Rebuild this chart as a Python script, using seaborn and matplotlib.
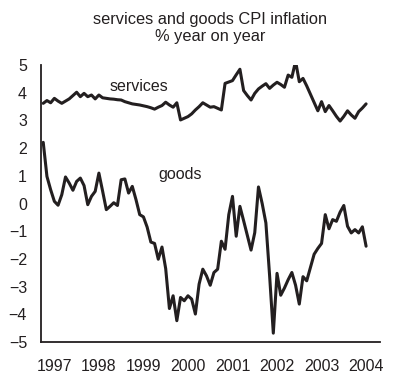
import numpy as np
import pandas as pd
import seaborn as sns
import matplotlib
matplotlib.use("Agg")
import matplotlib.pyplot as plt

# monthly series, Oct 1996 to Jan 2004 (% year on year)
start_year = 1996.75
services = [3.62, 3.72, 3.64, 3.80, 3.70, 3.62, 3.70, 3.78, 3.90, 4.02,
            3.86, 3.98, 3.86, 3.92, 3.78, 3.92, 3.82, 3.80, 3.78, 3.77,
            3.75, 3.74, 3.68, 3.64, 3.60, 3.58, 3.56, 3.53, 3.50, 3.46,
            3.41, 3.48, 3.54, 3.66, 3.56, 3.48, 3.64, 3.02, 3.08, 3.14,
            3.24, 3.38, 3.50, 3.64, 3.56, 3.48, 3.50, 3.44, 3.38, 4.34,
            4.39, 4.44, 4.65, 4.85, 4.08, 3.90, 3.74, 3.98, 4.14, 4.24,
            4.33, 4.16, 4.28, 4.38, 4.30, 4.20, 4.64, 4.56, 5.14, 4.40,
            4.52, 4.25, 3.95, 3.65, 3.35, 3.68, 3.32, 3.54, 3.35, 3.15,
            2.98, 3.15, 3.35, 3.20, 3.08, 3.32, 3.45, 3.60]
goods = [2.21, 0.98, 0.50, 0.08, -0.06, 0.32, 0.96, 0.74, 0.48, 0.80,
         0.92, 0.65, -0.04, 0.26, 0.44, 1.10, 0.45, -0.22, -0.10, 0.03,
         -0.07, 0.86, 0.89, 0.38, 0.62, 0.14, -0.40, -0.48, -0.85, -1.39,
         -1.44, -2.01, -1.57, -2.35, -3.79, -3.33, -4.23, -3.39, -3.51, -3.33,
         -3.45, -3.99, -2.91, -2.37, -2.61, -2.95, -2.49, -2.37, -1.36, -1.65,
         -0.40, 0.26, -1.18, -0.10, -0.62, -1.15, -1.68, -1.05, 0.60, 0.00,
         -0.70, -2.60, -4.68, -2.52, -3.31, -3.05, -2.75, -2.49, -2.95, -3.63,
         -2.64, -2.79, -2.31, -1.83, -1.62, -1.44, -0.40, -0.91, -0.58, -0.64,
         -0.31, -0.07, -0.82, -1.06, -0.94, -1.06, -0.84, -1.54]
years = [1997, 1998, 1999, 2000, 2001, 2002, 2003, 2004]
y_ticks = [5, 4, 3, 2, 1, 0, -1, -2, -3, -4, -5]

t = start_year + np.arange(len(services)) / 12
df = pd.DataFrame({"t": np.concatenate([t, t]),
                   "value": services + goods,
                   "series": ["services"] * len(t) + ["goods"] * len(t)})

sns.set_style("white")
plt.rcParams["font.family"] = ["Liberation Sans", "DejaVu Sans"]

fig = plt.figure(figsize=(4.02, 3.83), dpi=100)
ax = fig.add_axes([0.102, 0.107, 0.843, 0.723])

sns.lineplot(data=df, x="t", y="value", hue="series",
             palette={"services": "#231f20", "goods": "#231f20"},
             linewidth=2.2, legend=False, ax=ax)

ax.set_xlim(1996.70, 2004.31)
ax.set_ylim(-5, 5)
ax.set_xticks(years)
ax.set_xticklabels([str(y) for y in years])
ax.set_yticks(y_ticks)
ax.tick_params(length=0, labelsize=11.5, colors="#231f20")
ax.tick_params(axis="x", pad=12)
ax.tick_params(axis="y", pad=10)
ax.set_xlabel("")
ax.set_ylabel("")

for side in ["top", "right"]:
    ax.spines[side].set_visible(False)
for side in ["left", "bottom"]:
    ax.spines[side].set_color("#231f20")
    ax.spines[side].set_linewidth(1.3)

ax.text(1998.9, 4.24, "services", ha="center", va="center",
        fontsize=11.5, color="#231f20")
ax.text(1999.82, 1.04, "goods", ha="center", va="center",
        fontsize=11.5, color="#231f20")

ax.set_title("services and goods CPI inflation\n% year on year",
             fontsize=11.8, color="#231f20", pad=17, linespacing=1.2)

fig.savefig("out.png", dpi=100)
